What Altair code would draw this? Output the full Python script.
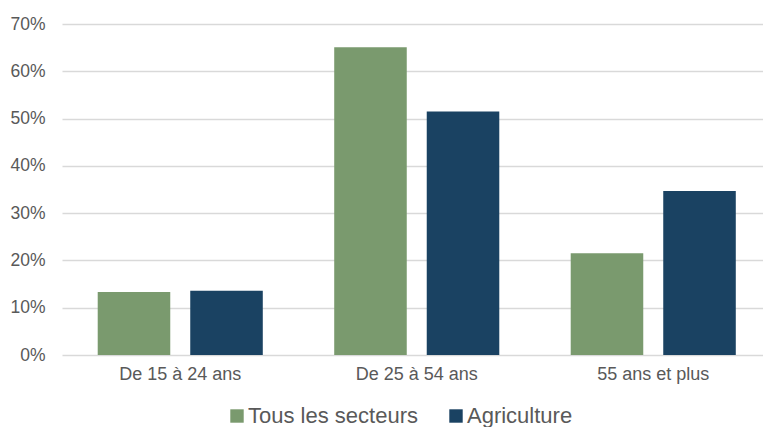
import altair as alt
import pandas as pd

categories = ["De 15 à 24 ans", "De 25 à 54 ans", "55 ans et plus"]
series = ["Tous les secteurs", "Agriculture"]
tous = [0.133, 0.651, 0.215]
agri = [0.136, 0.515, 0.347]
y_ticks = [0, 0.1, 0.2, 0.3, 0.4, 0.5, 0.6, 0.7]
colors = ["#7a9a6e", "#1a4262"]

rows = []
for i, c in enumerate(categories):
    rows.append({"cat": c, "serie": series[0], "val": tous[i]})
    rows.append({"cat": c, "serie": series[1], "val": agri[i]})
df = pd.DataFrame(rows)

FONT = "Liberation Sans"
GREY = "#595959"

chart = alt.Chart(df).mark_bar().encode(
    x=alt.X("cat:N", sort=categories, title=None,
            scale=alt.Scale(paddingInner=0.302, paddingOuter=0.151, range=[0, 709.5]),
            axis=alt.Axis(labelAngle=0, labelFontSize=18, labelColor=GREY, labelFont=FONT,
                          labelPadding=10, ticks=False, domain=False)),
    xOffset=alt.XOffset("serie:N", sort=series,
                        scale=alt.Scale(paddingInner=0.216, paddingOuter=0)),
    y=alt.Y("val:Q", title=None,
            scale=alt.Scale(domain=[0, 0.7], nice=False),
            axis=alt.Axis(values=y_ticks, format=".0%", labelFontSize=17.5, labelColor=GREY,
                          labelFont=FONT, labelPadding=17, ticks=False, domain=False,
                          grid=True, gridColor="#d9d9d9", gridWidth=1.3)),
    color=alt.Color("serie:N", sort=series,
                    scale=alt.Scale(domain=series, range=colors),
                    legend=alt.Legend(title=None, orient="none", legendX=164, legendY=381,
                                      direction="horizontal", symbolType="square",
                                      symbolSize=180, symbolStrokeWidth=0,
                                      labelFontSize=22, labelColor=GREY, labelFont=FONT,
                                      labelLimit=400, labelOffset=0, columnPadding=27,
                                      padding=0)),
).properties(
    width=701, height=331,
    padding={"left": 62, "top": 24, "right": 0, "bottom": 72},
    autosize=alt.AutoSizeParams(type="none"),
).configure_view(stroke=None)

chart.save("out.html", embed_options={"renderer": "svg", "actions": False})
